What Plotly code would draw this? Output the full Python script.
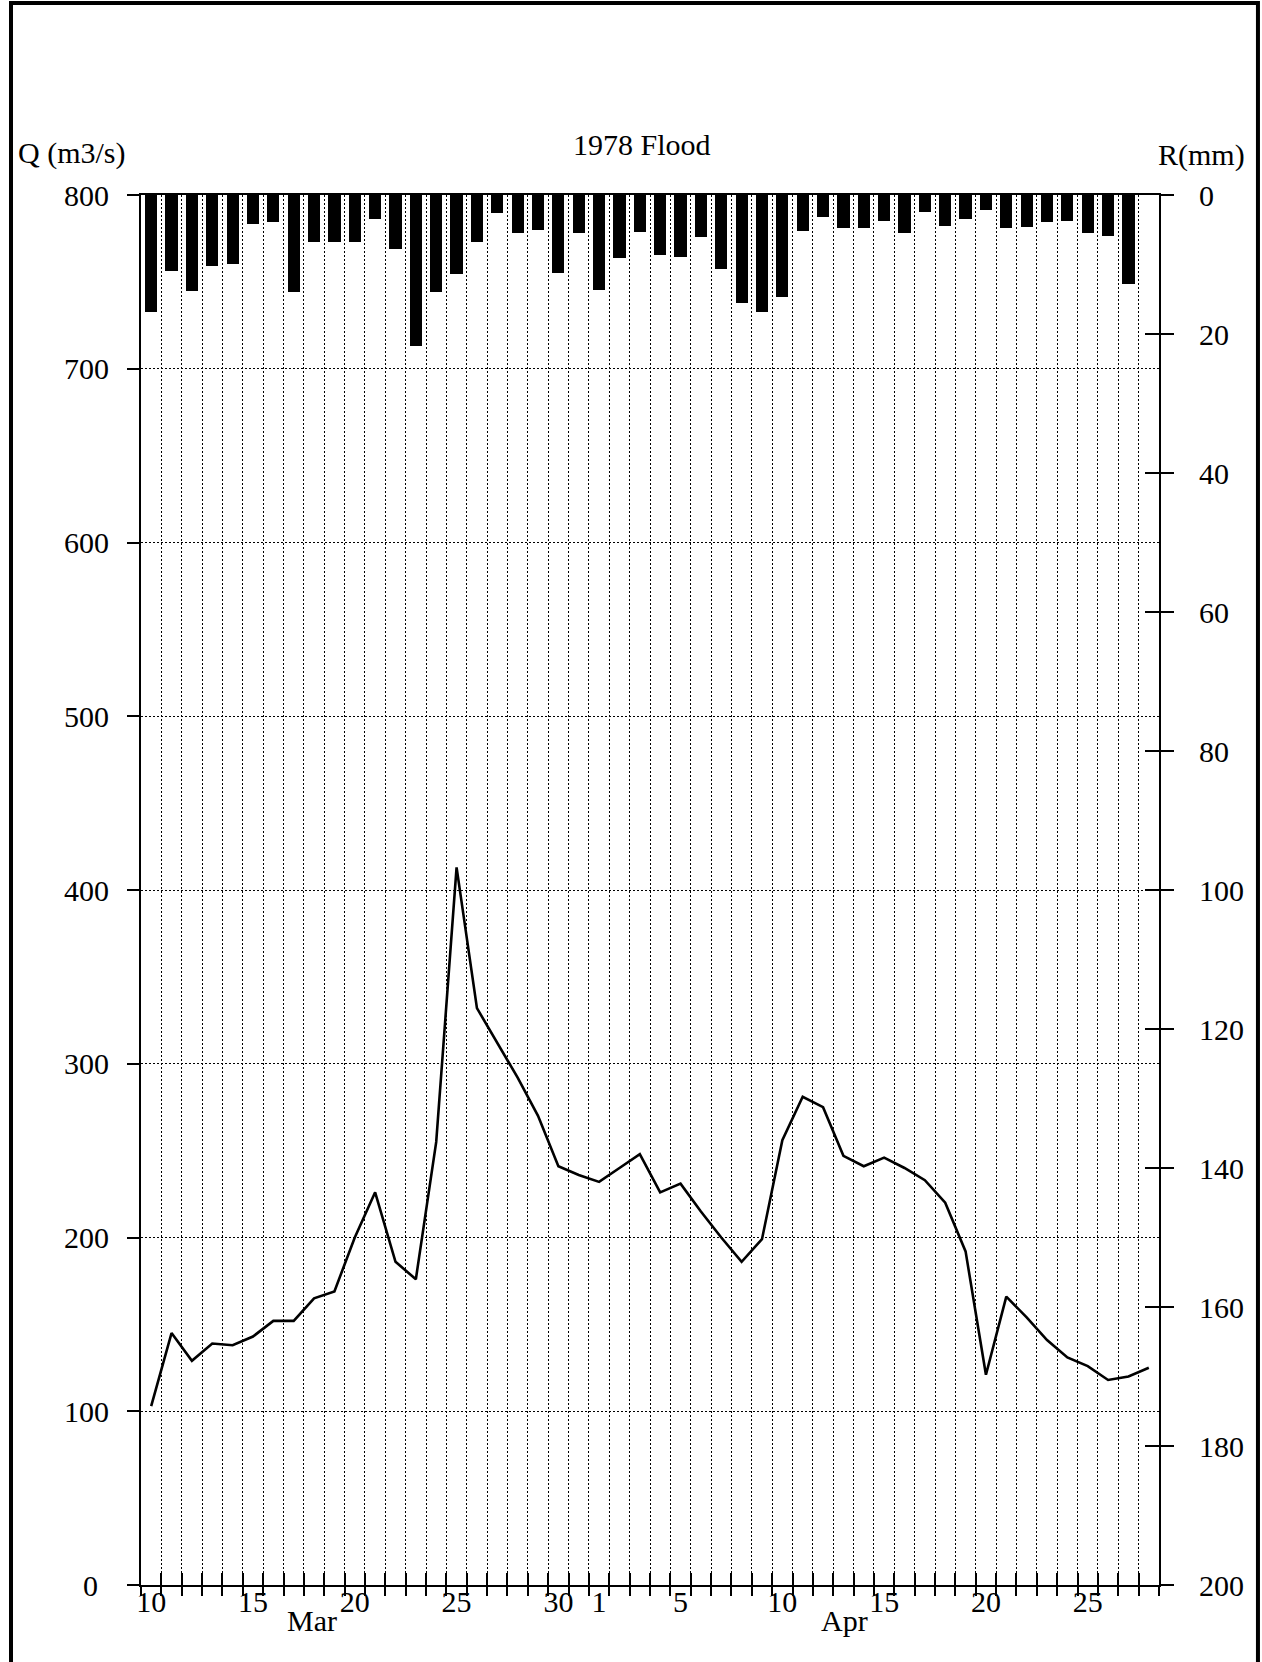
import pandas as pd
import plotly.graph_objects as go

# Daily record, 10 March - 28 April 1978
start_date = "1978-03-10"
end_date = "1978-04-28"

# Mean daily discharge Q (m3/s)
discharge_m3s = [103, 145, 129, 139, 138, 143, 152, 152, 165, 169,
                 200, 226, 186, 176, 255, 413, 332, 312, 292, 270,
                 241, 236, 232, 240, 248, 226, 231, 215, 200, 186,
                 199, 256, 281, 275, 247, 241, 246, 240, 233, 220,
                 192, 121, 166, 154, 141, 131, 126, 118, 120, 125]

# Daily rainfall R (mm)
rainfall_mm = [16.9, 11.0, 13.8, 10.2, 9.9, 4.2, 3.9, 13.9, 6.8, 6.8,
               6.7, 3.4, 7.8, 21.7, 14.0, 11.4, 6.7, 2.6, 5.5, 5.1,
               11.2, 5.4, 13.7, 9.0, 5.3, 8.6, 8.9, 6.1, 10.7, 15.6,
               16.8, 14.7, 5.2, 3.1, 4.7, 4.8, 3.7, 5.4, 2.5, 4.4,
               3.4, 2.2, 4.7, 4.6, 3.9, 3.7, 5.4, 5.9, 12.8, 0.0]

# Day-of-month labels along the time axis
labelled_dates = ["1978-03-10", "1978-03-15", "1978-03-20", "1978-03-25",
                  "1978-03-30", "1978-04-01", "1978-04-05", "1978-04-10",
                  "1978-04-15", "1978-04-20", "1978-04-25"]
labelled_text = ["10", "15", "20", "25", "30", "1", "5", "10", "15", "20", "25"]
month_names = ["Mar", "Apr"]
month_positions = ["1978-03-18 09:00", "1978-04-13 13:00"]

q_ticks = list(range(0, 801, 100))
q_text = [""] + [str(v) for v in q_ticks[1:]]   # origin label is set apart
r_ticks = list(range(0, 201, 20))

FONT = "Liberation Serif"
FS = 30
DAY_MS = 86400000

days = pd.date_range(start_date, end_date, freq="D")
centres = days + pd.Timedelta(hours=12)
x_range = [days[0], days[-1] + pd.Timedelta(days=1)]
label_x = pd.to_datetime(labelled_dates) + pd.Timedelta(hours=12)

fig = go.Figure()

# rainfall bars hanging from the top (reversed right axis)
fig.add_trace(go.Bar(
    x=centres, y=rainfall_mm, xaxis="x2", yaxis="y2",
    width=0.6 * DAY_MS, marker=dict(color="black", line=dict(width=0)),
    showlegend=False, hoverinfo="skip",
))

# discharge hydrograph
fig.add_trace(go.Scatter(
    x=centres, y=discharge_m3s, xaxis="x", yaxis="y",
    mode="lines", line=dict(color="black", width=2.6),
    showlegend=False,
))

# empty trace that carries the inward tick axes
fig.add_trace(go.Scatter(x=[], y=[], xaxis="x3", yaxis="y3",
                         showlegend=False, hoverinfo="skip"))

dotted = "2px,2px"

fig.update_layout(
    width=1262, height=1662,
    margin=dict(l=141, r=103, t=195, b=77, autoexpand=False),
    paper_bgcolor="white", plot_bgcolor="white",
    font=dict(family=FONT, size=FS, color="black"),
    bargap=0,
    xaxis=dict(
        type="date", range=x_range, tick0=start_date, dtick=DAY_MS,
        ticks="outside", ticklen=9, tickwidth=1.5, tickcolor="black",
        showticklabels=False,
        showgrid=True, gridcolor="black", gridwidth=1.3, griddash=dotted,
        showline=True, linecolor="black", linewidth=2, mirror=True,
        zeroline=False, anchor="y",
    ),
    xaxis2=dict(
        type="date", range=x_range, overlaying="x", anchor="y", side="bottom",
        tickmode="array", tickvals=label_x, ticktext=labelled_text,
        ticks="", ticklabelstandoff=-4, showgrid=False, showline=False,
        zeroline=False, tickfont=dict(family=FONT, size=FS),
    ),
    xaxis3=dict(
        type="date", range=x_range, overlaying="x", anchor="y", side="bottom",
        tick0=start_date, dtick=DAY_MS,
        ticks="inside", ticklen=12, tickwidth=1.5, tickcolor="black",
        showticklabels=False, showgrid=False, showline=False, zeroline=False,
    ),
    yaxis=dict(
        range=[0, 800], tickmode="array", tickvals=q_ticks, ticktext=q_text,
        ticks="outside", ticklen=12, tickwidth=1.5, tickcolor="black",
        ticklabelstandoff=12,
        showgrid=True, gridcolor="black", gridwidth=1.3, griddash=dotted,
        showline=True, linecolor="black", linewidth=2,
        zeroline=False, anchor="x", tickfont=dict(family=FONT, size=FS),
    ),
    yaxis2=dict(
        range=[200, 0], overlaying="y", side="right", anchor="x",
        tickmode="array", tickvals=r_ticks,
        ticks="outside", ticklen=13, tickwidth=1.5, tickcolor="black",
        ticklabelstandoff=19,
        showgrid=False, showline=True, linecolor="black", linewidth=2,
        zeroline=False, tickfont=dict(family=FONT, size=FS),
    ),
    yaxis3=dict(
        range=[200, 0], overlaying="y", side="right", anchor="x",
        tickmode="array", tickvals=r_ticks,
        ticks="inside", ticklen=14, tickwidth=1.5, tickcolor="black",
        showticklabels=False, showgrid=False, showline=False, zeroline=False,
    ),
)

annotations = [
    dict(text="Q (m3/s)", x=-0.1228, y=1.0302, xanchor="left", yanchor="middle"),
    dict(text="1978 Flood", x=0.4921, y=1.0362, xanchor="center", yanchor="middle"),
    dict(text="R(mm)", x=1.0860, y=1.0290, xanchor="right", yanchor="middle"),
    dict(text="0", x=-0.0403, y=0.0, xanchor="right", yanchor="middle"),
]
for a in annotations:
    a.update(xref="paper", yref="paper", showarrow=False,
             font=dict(family=FONT, size=FS, color="black"))
    fig.add_annotation(**a)

for name, pos in zip(month_names, month_positions):
    fig.add_annotation(text=name, x=pos, xref="x", y=-0.0256, yref="paper",
                       xanchor="center", yanchor="middle", showarrow=False,
                       font=dict(family=FONT, size=FS, color="black"))

# page frame
fig.add_shape(type="rect", xref="paper", yref="paper",
              x0=-0.1277, x1=1.0972, y0=-0.09, y1=1.1381,
              line=dict(color="black", width=4), fillcolor="rgba(0,0,0,0)",
              layer="above")

fig.write_html("out.html")
